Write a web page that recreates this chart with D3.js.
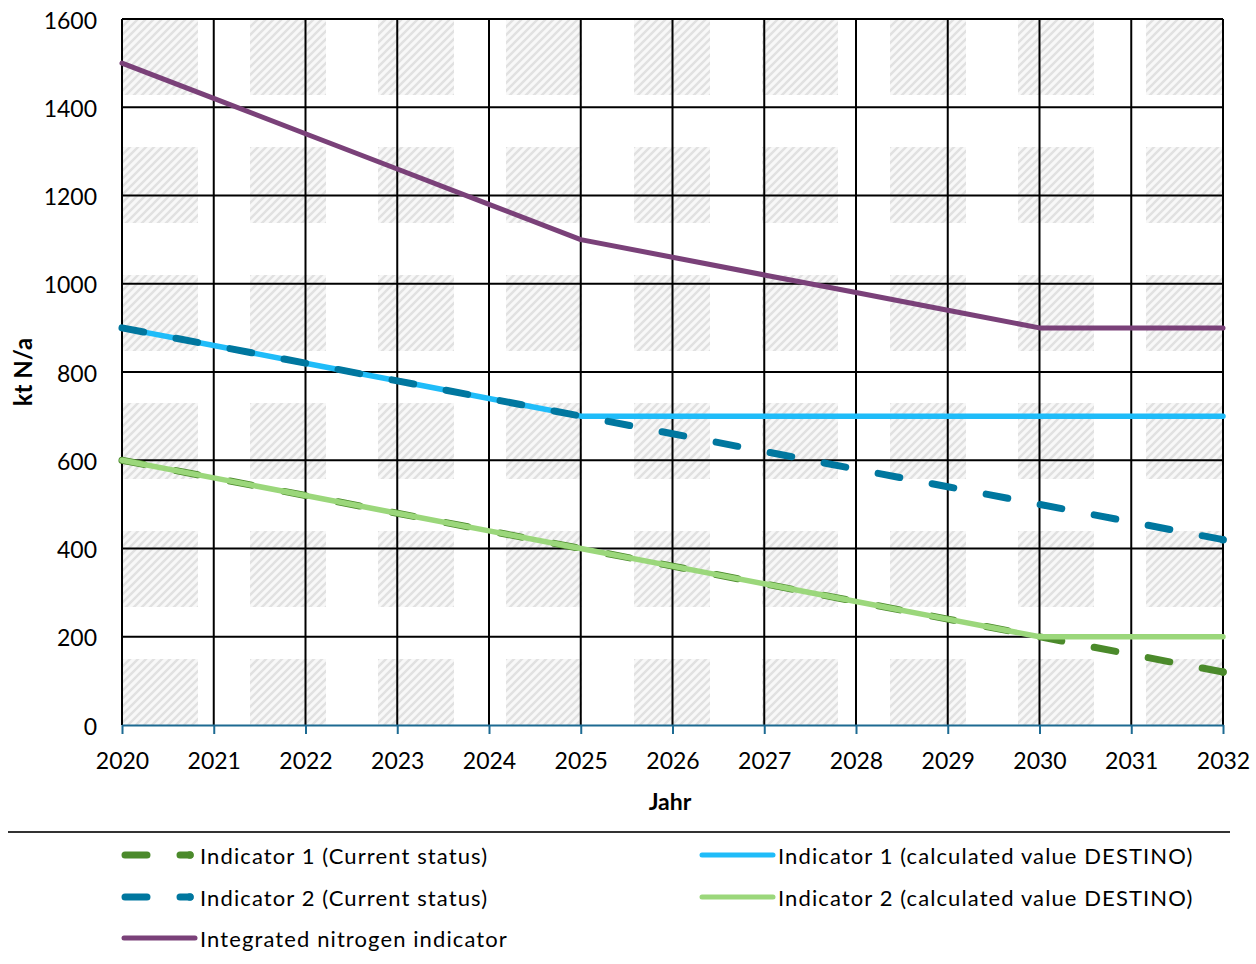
<!DOCTYPE html>
<html>
<head>
<meta charset="utf-8">
<script src="https://cdn.jsdelivr.net/npm/d3@7"></script>
<style>
  html, body { margin: 0; padding: 0; background: #fff; }
  svg { display: block; font-family: Lato, "Open Sans", sans-serif; }
</style>
</head>
<body>
<svg id="chart" width="1256" height="964"></svg>
<script>
// ---- data ----
const years = [2020, 2021, 2022, 2023, 2024, 2025, 2026, 2027, 2028, 2029, 2030, 2031, 2032];
const ind1Current = [600, 560, 520, 480, 440, 400, 360, 320, 280, 240, 200, 160, 120];
const ind2Current = [900, 860, 820, 780, 740, 700, 660, 620, 580, 540, 500, 460, 420];
const ind1Destino = [900, 860, 820, 780, 740, 700, 700, 700, 700, 700, 700, 700, 700];
const ind2Destino = [600, 560, 520, 480, 440, 400, 360, 320, 280, 240, 200, 200, 200];
const integrated  = [1500, 1420, 1340, 1260, 1180, 1100, 1060, 1020, 980, 940, 900, 900, 900];
const yTicks = [0, 200, 400, 600, 800, 1000, 1200, 1400, 1600];
const seriesNames = [
  "Indicator 1 (Current status)",
  "Indicator 2 (Current status)",
  "Integrated nitrogen indicator",
  "Indicator 1 (calculated value DESTINO)",
  "Indicator 2 (calculated value DESTINO)"
];
const xTitle = "Jahr";
const yTitle = "kt N/a";

// ---- layout ----
const svg = d3.select("#chart");
const pL = 122, pR = 1223, pT = 19, pB = 725;
const x = d3.scaleLinear().domain([2020, 2032]).range([pL, pR]);
const y = d3.scaleLinear().domain([0, 1600]).range([pB, pT]);

// hatch pattern
const defs = svg.append("defs");
const hatch = defs.append("pattern").attr("id", "hatch").attr("patternUnits", "userSpaceOnUse")
  .attr("width", 8).attr("height", 8);
hatch.append("rect").attr("width", 8).attr("height", 8).attr("fill", "#f8f8f8");
hatch.append("path").attr("d", "M-2,2 L2,-2 M0,8 L8,0 M6,10 L10,6")
  .attr("stroke", "#e1e1e1").attr("stroke-width", 2.4);
const tile = defs.append("pattern").attr("id", "tile").attr("patternUnits", "userSpaceOnUse")
  .attr("x", pL).attr("y", pT).attr("width", 128).attr("height", 128);
tile.append("rect").attr("width", 128).attr("height", 128).attr("fill", "#fff");
tile.append("rect").attr("width", 76).attr("height", 76).attr("fill", "url(#hatch)");

svg.append("rect").attr("x", pL).attr("y", pT).attr("width", pR - pL).attr("height", pB - pT)
  .attr("fill", "url(#tile)");

// grid
svg.append("g").selectAll("line").data(yTicks.filter(d => d > 0)).join("line")
  .attr("x1", pL).attr("x2", pR).attr("y1", d => y(d)).attr("y2", d => y(d))
  .attr("stroke", "#000").attr("stroke-width", 2);
svg.append("g").selectAll("line").data(years).join("line")
  .attr("x1", d => x(d)).attr("x2", d => x(d)).attr("y1", pT).attr("y2", pB)
  .attr("stroke", "#000").attr("stroke-width", 2);

// x axis
const xAxis = svg.append("g").attr("transform", `translate(0,${pB})`)
  .call(d3.axisBottom(x).tickValues(years).tickFormat(d3.format("d")).tickSize(9).tickSizeOuter(0));
xAxis.select(".domain").attr("stroke", "#1d6a92").attr("stroke-width", 2);
xAxis.selectAll(".tick line").attr("stroke", "#1d6a92").attr("stroke-width", 2);
xAxis.selectAll(".tick text").attr("fill", "#000").attr("font-size", 23).attr("font-family", "Lato")
  .attr("dy", null).attr("y", 35).attr("dominant-baseline", "central");

// y axis labels
const yAxis = svg.append("g").attr("transform", `translate(${pL},0)`)
  .call(d3.axisLeft(y).tickValues(yTicks).tickFormat(d3.format("d")).tickSize(0).tickPadding(25));
yAxis.select(".domain").remove();
yAxis.selectAll(".tick text").attr("fill", "#000").attr("font-size", 23).attr("font-family", "Lato")
  .attr("dy", null).attr("dominant-baseline", "central");

// axis titles
svg.append("text").attr("x", 670).attr("y", 801).attr("text-anchor", "middle")
  .attr("dominant-baseline", "central").attr("font-weight", "bold").attr("font-size", 23).text(xTitle);
svg.append("text").attr("transform", "translate(22,372) rotate(-90)").attr("text-anchor", "middle")
  .attr("dominant-baseline", "central").attr("font-weight", "bold").attr("font-size", 24).text(yTitle);

// series
const colors = {
  ind1Current: "#4b8a2b",
  ind2Current: "#00779f",
  integrated: "#7a4179",
  ind1Destino: "#1fbcf9",
  ind2Destino: "#9bd77b"
};
const dash = "22,33";
const line = d3.line().x((d, i) => x(years[i])).y(d => y(d));
const drawOrder = [
  { v: ind1Current, c: colors.ind1Current, w: 7, dash: dash },
  { v: ind2Destino, c: colors.ind2Destino, w: 5.5, dash: null },
  { v: ind1Destino, c: colors.ind1Destino, w: 5.5, dash: null },
  { v: ind2Current, c: colors.ind2Current, w: 7, dash: dash },
  { v: integrated, c: colors.integrated, w: 5, dash: null }
];
svg.append("g").selectAll("path").data(drawOrder).join("path")
  .attr("d", d => line(d.v)).attr("fill", "none").attr("stroke", d => d.c)
  .attr("stroke-width", d => d.w).attr("stroke-dasharray", d => d.dash)
  .attr("stroke-linecap", "round").attr("stroke-linejoin", "round");
// end dots for dashed series (as in reference)
svg.append("g").selectAll("circle").data([
  { v: ind1Current[ind1Current.length - 1], c: colors.ind1Current },
  { v: ind2Current[ind2Current.length - 1], c: colors.ind2Current }
]).join("circle").attr("cx", x(2032)).attr("cy", d => y(d.v)).attr("r", 3.8).attr("fill", d => d.c);

// separator
svg.append("line").attr("x1", 8).attr("x2", 1230).attr("y1", 832).attr("y2", 832)
  .attr("stroke", "#333").attr("stroke-width", 2);

// legend
const legendItems = [
  { name: seriesNames[0], c: colors.ind1Current, dash: true, lx: 122, ly: 855 },
  { name: seriesNames[1], c: colors.ind2Current, dash: true, lx: 122, ly: 897 },
  { name: seriesNames[2], c: colors.integrated, dash: false, lx: 122, ly: 938 },
  { name: seriesNames[3], c: colors.ind1Destino, dash: false, lx: 700, ly: 855 },
  { name: seriesNames[4], c: colors.ind2Destino, dash: false, lx: 700, ly: 897 }
];
const lg = svg.append("g").selectAll("g").data(legendItems).join("g")
  .attr("transform", d => `translate(${d.lx},${d.ly})`);
lg.append("line").attr("x1", d => d.dash ? 3 : 2).attr("x2", d => d.dash ? 68 : 73)
  .attr("stroke", d => d.c).attr("stroke-width", d => d.dash ? 7 : 5)
  .attr("stroke-dasharray", d => d.dash ? dash : null).attr("stroke-linecap", "round");
lg.filter(d => d.dash).append("circle").attr("cx", 68).attr("r", 3.8).attr("fill", d => d.c);
lg.append("text").attr("x", 78).attr("dominant-baseline", "central")
  .attr("font-size", 22).attr("letter-spacing", 1.1).attr("fill", "#000").text(d => d.name);
</script>
</body>
</html>
